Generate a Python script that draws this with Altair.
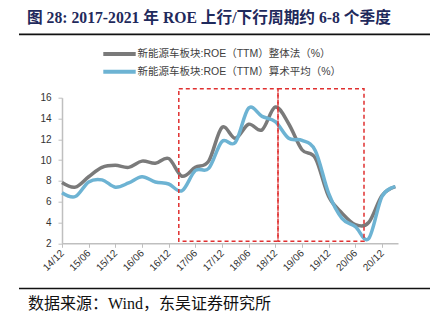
import altair as alt
import pandas as pd

# Quarterly periods 14/12 .. 21/03
quarters = ["14/12", "15/03", "15/06", "15/09", "15/12", "16/03", "16/06", "16/09",
            "16/12", "17/03", "17/06", "17/09", "17/12", "18/03", "18/06", "18/09",
            "18/12", "19/03", "19/06", "19/09", "19/12", "20/03", "20/06", "20/09",
            "20/12", "21/03"]
roe_overall = [7.85, 7.4, 8.4, 9.3, 9.5, 9.3, 9.9, 9.7, 10.15, 8.45, 9.3, 9.9, 13.15,
               12.1, 13.45, 12.9, 15.1, 13.5, 11.0, 10.2, 6.5, 4.9, 3.8, 4.0, 6.6, 7.45]
roe_mean = [6.87, 6.5, 7.9, 8.1, 7.4, 7.8, 8.4, 7.9, 7.7, 7.05, 9.0, 9.2, 11.8,
            11.7, 15.0, 14.2, 13.7, 12.1, 11.9, 10.9, 6.8, 4.4, 3.6, 2.45, 6.5, 7.45]
series_names = ["新能源车板块:ROE（TTM）整体法（%）", "新能源车板块:ROE（TTM）算术平均（%）"]
series_colors = ["#7a7a7a", "#6db3d3"]
tick_labels = ["14/12", "15/06", "15/12", "16/06", "16/12", "17/06", "17/12",
               "18/06", "18/12", "19/06", "19/12", "20/06", "20/12"]
y_ticks = [2, 4, 6, 8, 10, 12, 14, 16]
# cycle boxes (in quarter-index units / ROE units)
box_start = [8.76, 16.2]
box_end = [16.2, 22.65]
box_top = [16.85, 16.85]
box_bottom = [2.2, 2.2]

title_text = "图 28: 2017-2021 年 ROE 上行/下行周期约 6-8 个季度"
source_text = "数据来源：Wind，东吴证券研究所"

rows = []
for name, vals in zip(series_names, [roe_overall, roe_mean]):
    for i, (q, v) in enumerate(zip(quarters, vals)):
        rows.append({"idx": i, "q": q, "series": name, "roe": v})
df = pd.DataFrame(rows)

label_js = "[" + ",".join("'%s'" % t for t in tick_labels) + "]"

x_scale = alt.Scale(domain=[0, 25.2], nice=False, zero=False)
y_scale = alt.Scale(domain=[2, 16], nice=False, zero=False)
x_axis = alt.Axis(values=list(range(0, 25, 2)), labelExpr=label_js + "[round(datum.value/2)]",
                  labelAngle=-45, labelAlign="right", labelBaseline="middle",
                  labelPadding=4, labelOverlap=False, labelBound=False, title=None)
y_axis = alt.Axis(values=y_ticks, labelPadding=7, labelOverlap=False,
                  labelBound=False, title=None)

lines = alt.Chart(df).mark_line(interpolate="cardinal", strokeWidth=3.5).encode(
    x=alt.X("idx:Q", scale=x_scale, axis=x_axis),
    y=alt.Y("roe:Q", scale=y_scale, axis=y_axis),
    color=alt.Color("series:N", scale=alt.Scale(domain=series_names, range=series_colors), legend=None),
    order=alt.Order("idx:Q"),
)

boxes_df = pd.DataFrame({"x0": box_start, "x1": box_end, "y0": box_bottom, "y1": box_top})
boxes = alt.Chart(boxes_df).mark_rect(filled=False, stroke="#e03030", strokeWidth=1.5,
                                      strokeDash=[4, 3]).encode(
    x=alt.X("x0:Q", scale=x_scale, axis=x_axis), x2="x1:Q",
    y=alt.Y("y0:Q", scale=y_scale, axis=y_axis), y2="y1:Q",
)

one = pd.DataFrame({"a": [0]})

layers = [lines, boxes]

# Legend (manual)
leg_y = [-43.7, -26.0]
for name, col, ly in zip(series_names, series_colors, leg_y):
    layers.append(alt.Chart(one).mark_rule(color=col, strokeWidth=4).encode(
        x=alt.value(41.3), x2=alt.value(73.7), y=alt.value(ly)))
    layers.append(alt.Chart(one).mark_text(
        text=name, align="left", baseline="middle", fontSize=10.5, color="#404040",
        font="Liberation Sans, Noto Sans CJK SC").encode(x=alt.value(75.5), y=alt.value(ly)))

# Title, separators, source
layers.append(alt.Chart(one).mark_text(
    text=title_text, align="left", baseline="middle", fontSize=15.7, fontWeight="bold",
    color="#1f2a5c", font="Liberation Serif, Noto Sans CJK SC").encode(
    x=alt.value(-35), y=alt.value(-80)))
layers.append(alt.Chart(one).mark_rule(color="#111111", strokeWidth=1.8).encode(
    x=alt.value(-43), x2=alt.value(368), y=alt.value(-63.4)))
layers.append(alt.Chart(one).mark_rule(color="#111111", strokeWidth=1.6).encode(
    x=alt.value(-43), x2=alt.value(368), y=alt.value(190.8)))
layers.append(alt.Chart(one).mark_text(
    text=source_text, align="left", baseline="middle", fontSize=16,
    color="#111111", font="Liberation Serif, Noto Sans CJK SC").encode(
    x=alt.value(-34), y=alt.value(206.5)))

chart = alt.layer(*layers).properties(
    width=336, height=145.6,
    autosize=alt.AutoSizeParams(type="none"),
    padding={"left": 62, "top": 97.7, "right": 36, "bottom": 80.7},
    background="white",
).configure_view(stroke=None).configure_axis(
    grid=False, domainColor="#bfbfbf", domainWidth=1.5, tickColor="#bfbfbf",
    tickSize=4, tickWidth=1, labelColor="#333333", labelFont="Liberation Sans",
    labelFontSize=10, labelOverlap=False,
)

chart.save("out.html", embed_options={"renderer": "svg", "actions": False})
